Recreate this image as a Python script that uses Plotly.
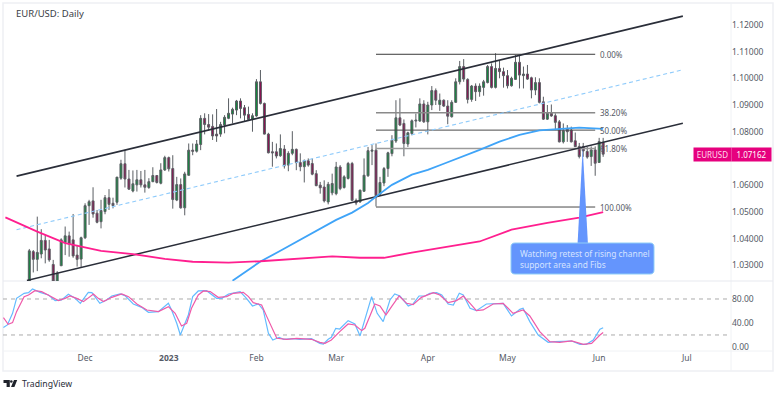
import plotly.graph_objects as go

# ---- price bars (daily EUR/USD) ----
direction = ("GMGGMMMGGG" "MMMGGGMMGG" "MMGGMMGGMM" "GGMGGMMGMG" "GMGGMMMMGG"
             "GGGMMMGGMM" "MMMGMGGMMG" "MMMMMGGGMG" "GMMGGGGMGG" "GGGMMGGGGM"
             "GGMGMMGGGM" "MGMGGGMGMM" "MGGMGMMGMM" "GMMMGMMMMM" "MGMGM")
highs = [1.0361,1.0357,1.0482,1.0435,1.0414,1.0395,1.0320,1.0278,1.0401,1.0445,
         1.0426,1.0492,1.0376,1.0407,1.0532,1.0545,1.0592,1.0507,1.0545,1.0563,
         1.0585,1.0553,1.0630,1.0695,1.0732,1.0657,1.0655,1.0657,1.0653,1.0657,
         1.0626,1.0667,1.0638,1.0682,1.0710,1.0707,1.0712,1.0631,1.0625,1.0650,
         1.0756,1.0756,1.0769,1.0862,1.0869,1.0866,1.0865,1.0885,1.0837,1.0862,
         1.0925,1.0890,1.0919,1.0925,1.0900,1.0894,1.0869,1.0997,1.1031,1.0909,
         1.0796,1.0762,1.0756,1.0790,1.0750,1.0727,1.0802,1.0737,1.0719,1.0696,
         1.0700,1.0700,1.0656,1.0612,1.0618,1.0612,1.0643,1.0687,1.0675,1.0637,
         1.0687,1.0687,1.0550,1.0583,1.0700,1.0743,1.0750,1.0756,1.0631,1.0668,
         1.0725,1.0787,1.0918,1.0925,1.0846,1.0800,1.0846,1.0868,1.0925,1.0918,
         1.0912,1.0971,1.0962,1.0943,1.0921,1.0918,1.0918,1.1000,1.1065,1.1072,
         1.1000,1.0975,1.0981,1.0981,1.0994,1.1050,1.1056,1.1094,1.1066,1.1040,
         1.1031,1.1006,1.1087,1.1087,1.1044,1.1050,1.1006,1.1004,1.1000,1.0931,
         1.0900,1.0902,1.0869,1.0844,1.0831,1.0825,1.0819,1.0797,1.0758,1.0758,
         1.0743,1.0745,1.0745,1.0777,1.0777]
body_tops = [1.0354,1.0351,1.0348,1.0393,1.0393,1.0361,1.0303,1.0270,1.0395,1.0410,
             1.0410,1.0395,1.0338,1.0403,1.0523,1.0538,1.0541,1.0495,1.0505,1.0553,
             1.0553,1.0532,1.0630,1.0680,1.0680,1.0623,1.0605,1.0620,1.0620,1.0601,
             1.0613,1.0636,1.0636,1.0657,1.0703,1.0703,1.0662,1.0602,1.0602,1.0642,
             1.0731,1.0731,1.0754,1.0850,1.0850,1.0827,1.0820,1.0791,1.0827,1.0854,
             1.0869,1.0884,1.0915,1.0915,1.0890,1.0865,1.0860,1.0987,1.0987,1.0906,
             1.0791,1.0725,1.0725,1.0737,1.0735,1.0719,1.0734,1.0734,1.0685,1.0691,
             1.0691,1.0681,1.0643,1.0600,1.0593,1.0603,1.0606,1.0668,1.0668,1.0631,
             1.0681,1.0681,1.0543,1.0581,1.0637,1.0729,1.0731,1.0731,1.0610,1.0662,
             1.0721,1.0768,1.0852,1.0852,1.0831,1.0796,1.0841,1.0843,1.0904,1.0904,
             1.0900,1.0954,1.0954,1.0918,1.0918,1.0896,1.0910,1.0987,1.1044,1.1044,
             1.0996,1.0971,1.0971,1.0971,1.0987,1.1044,1.1044,1.1037,1.1037,1.1025,
             1.1010,1.1000,1.1060,1.1060,1.1016,1.1016,1.1002,1.0984,1.0984,1.0912,
             1.0869,1.0869,1.0860,1.0837,1.0804,1.0809,1.0806,1.0766,1.0745,1.0745,
             1.0726,1.0732,1.0732,1.0763,1.0760]
body_bottoms = [1.0241,1.0322,1.0322,1.0342,1.0357,1.0320,1.0241,1.0241,1.0298,1.0385,
                1.0380,1.0335,1.0322,1.0323,1.0403,1.0523,1.0492,1.0461,1.0463,1.0501,
                1.0528,1.0523,1.0536,1.0626,1.0623,1.0585,1.0578,1.0601,1.0601,1.0592,
                1.0591,1.0613,1.0610,1.0607,1.0657,1.0661,1.0546,1.0544,1.0515,1.0515,
                1.0637,1.0727,1.0727,1.0752,1.0827,1.0817,1.0784,1.0784,1.0791,1.0825,
                1.0850,1.0866,1.0881,1.0887,1.0862,1.0846,1.0846,1.0859,1.0906,1.0791,
                1.0721,1.0721,1.0709,1.0710,1.0672,1.0675,1.0719,1.0684,1.0669,1.0669,
                1.0675,1.0641,1.0598,1.0590,1.0541,1.0537,1.0571,1.0568,1.0587,1.0591,
                1.0625,1.0543,1.0533,1.0537,1.0577,1.0635,1.0727,1.0560,1.0566,1.0608,
                1.0662,1.0718,1.0765,1.0825,1.0756,1.0754,1.0793,1.0840,1.0840,1.0837,
                1.0837,1.0900,1.0918,1.0902,1.0896,1.0858,1.0856,1.0910,1.0987,1.0997,
                1.0921,1.0921,1.0950,1.0950,1.0966,1.0984,1.0966,1.0966,1.1025,1.1010,
                1.0972,1.0972,1.0996,1.1012,1.1010,1.0997,1.0956,1.0956,1.0910,1.0847,
                1.0847,1.0859,1.0835,1.0762,1.0762,1.0800,1.0762,1.0744,1.0707,1.0728,
                1.0705,1.0707,1.0682,1.0685,1.0716]
lows = [1.0232,1.0273,1.0278,1.0326,1.0307,1.0313,1.0232,1.0232,1.0298,1.0338,
        1.0332,1.0328,1.0295,1.0291,1.0398,1.0451,1.0478,1.0457,1.0438,1.0491,
        1.0507,1.0513,1.0526,1.0620,1.0591,1.0582,1.0573,1.0576,1.0591,1.0572,
        1.0586,1.0611,1.0606,1.0603,1.0653,1.0651,1.0512,1.0540,1.0512,1.0487,
        1.0635,1.0712,1.0722,1.0731,1.0790,1.0804,1.0769,1.0762,1.0781,1.0794,
        1.0847,1.0831,1.0862,1.0850,1.0840,1.0844,1.0800,1.0856,1.0902,1.0790,
        1.0719,1.0669,1.0700,1.0706,1.0662,1.0652,1.0712,1.0656,1.0652,1.0610,
        1.0669,1.0637,1.0596,1.0568,1.0535,1.0528,1.0562,1.0562,1.0581,1.0587,
        1.0621,1.0541,1.0525,1.0534,1.0575,1.0631,1.0675,1.0520,1.0559,1.0596,
        1.0631,1.0708,1.0758,1.0821,1.0708,1.0743,1.0787,1.0816,1.0837,1.0833,
        1.0790,1.0881,1.0900,1.0878,1.0893,1.0828,1.0853,1.0908,1.0977,1.0987,
        1.0906,1.0912,1.0915,1.0931,1.0935,1.0981,1.0962,1.0962,1.1000,1.0965,
        1.0962,1.0969,1.0994,1.0962,1.0962,1.0994,1.0925,1.0937,1.0906,1.0844,
        1.0844,1.0856,1.0806,1.0760,1.0756,1.0762,1.0760,1.0744,1.0700,1.0706,
        1.0699,1.0672,1.0635,1.0683,1.0706]

# ---- channel (bar index, price) ----
channel_x = [-3.2, 164.0]
channel_upper = [1.0634, 1.1233]
channel_mid = [1.0433, 1.1032]
lower_x = [-0.6, 164.0]
channel_lower = [1.0243, 1.0832]

# ---- moving averages (bar index, price) ----
ma100_x = [51,58,63,68,73,77,81,85,87,91,96,100,104,108,113,118,123,128,133,138,144]
ma100_y = [1.0242,1.0314,1.0354,1.0395,1.0436,1.0470,1.0497,1.0533,1.0557,1.0601,1.0639,
           1.0657,1.0680,1.0702,1.0732,1.0763,1.0788,1.0805,1.0810,1.0815,1.0811]
ma200_x = [-6,2,9,18,26,34,41,50,58,68,76,83,89,96,103,113,121,130,138,144]
ma200_y = [1.0479,1.0426,1.0383,1.0354,1.0342,1.0324,1.0313,1.0310,1.0315,1.0326,1.0333,
           1.0328,1.0328,1.0347,1.0365,1.0389,1.0433,1.0459,1.0478,1.0499]

# ---- Fibonacci retracement ----
fib_start, fib_end, fib_label_x = 87, 142, 143.2
fib_levels = [1.1090, 1.0871, 1.0806, 1.0737, 1.0518]
fib_labels = ["0.00%", "38.20%", "50.00%", "61.80%", "100.00%"]

# ---- stochastic pane ----
stoch_k_x = [-6.5,-5.5,-4.2,-3.2,-1.3,-0.2,0.8,2.7,4.8,6.5,8.1,9.8,11.5,12.8,14.8,15.7,17.7,19.4,20.7,22.8,
             24,26.1,28.2,29.9,32.4,34.9,35.7,37,37.9,39.9,41,42.4,44.5,47,48.3,50,52.9,54.5,56,57.5,58.7,
             60,61.1,62.7,63.8,66.3,67.9,70.8,72.9,73.8,75,75.8,76.9,77.9,80,81.7,83,84.2,85.9,87.3,88.8,
             90.5,91.7,93,95.1,96.3,97.8,99.3,100.5,102.2,103.5,105.1,106.4,107.9,108.9,110.6,112.2,114.7,
             116.4,118.9,121,123.1,123.9,125.6,127.7,130.2,131.9,134.8,136.1,138.2,139.8,141.5,143.2,144]
stoch_k_y = [32.3,36.7,56.1,81.1,89.5,90.6,96.7,91.1,86.7,77.3,78.4,87.8,81.1,72.8,91.1,90.6,72.8,78.4,85,88.4,
             85.6,71.7,66.1,57.8,58.9,72.8,61.7,39.5,20,53.4,83.9,93.4,93.9,81.1,81.1,88.4,92.3,81.1,68.4,71.7,61.7,
             22.8,11.7,16.1,12.8,13.9,12.8,13.9,6.1,5,12.8,16.1,31.1,30,43.9,38.4,18.4,45,83.9,56.1,42.3,
             78.4,88.4,85,68.4,71.7,85,85,89.5,90.6,86.7,71.7,70,89.5,86.7,64.5,60.6,71.7,
             71.7,72.8,51.7,62.8,64.5,42.3,20,7.8,8.9,10,10,4.5,4.5,11.7,29.5,32]
stoch_d_x = [-6.5,-5.3,-4.2,-3.2,-1.3,-0.2,1.4,3.1,5.2,7.3,9,10.2,11.9,13.6,16.1,17.3,18.6,20.7,23.2,24.9,
             27,29.5,32.4,34.9,36.6,38.2,39.5,40.7,42.4,43.7,45.4,47.4,49.5,51.2,53.7,55,56.2,58.3,59.6,62.1,
             64.6,67.1,70.8,72.9,74.2,75.8,77.9,80,81.7,83.4,84.2,86.7,88,89.5,90.9,92.8,94.7,96.3,98.4,
             101.4,103,105.1,107.2,108.9,110.6,112.2,113.9,116.4,118.9,121.4,123.9,125.6,128.1,130.6,133.1,
             136.1,139,141.1,143.2,144]
stoch_d_y = [48.9,37.8,40.6,58.9,83.9,86.7,93.9,92.3,85,77.3,81.1,85,81.1,75.6,88.4,81.1,75.6,82.8,88.4,83.9,
             71.7,61.7,58.9,67.3,56.1,35,39.5,64.5,86.7,93.4,92.3,82.8,83.9,89.5,91.1,83.9,73.9,70,50.6,14.5,
             12.8,14.5,12.8,7.8,6.1,11.7,25.6,38.4,36.7,27.3,31.1,71.7,68.4,53.4,67.3,85,72.8,70.6,82.8,
             90.6,86.7,73.9,77.3,85,72.8,60.6,61.7,71.7,72.8,56.1,61.7,51.7,25.6,8.9,7.8,
             10,4.5,6.1,20,24]
stoch_bands = [80, 20]

# ---- axes ----
time_ticks = [14, 35, 57, 77, 100, 120, 143, 165]
time_labels = ["Dec", "<b>2023</b>", "Feb", "Mar", "Apr", "May", "Jun", "Jul"]
price_ticks = [1.03, 1.04, 1.05, 1.06, 1.07, 1.08, 1.09, 1.10, 1.11, 1.12]
price_labels = ["%.5f" % p for p in price_ticks]
stoch_ticks = [0, 40, 80]
stoch_labels = ["0.00", "40.00", "80.00"]
last_price = 1.07162

W, H = 780, 396
FONT = "Noto Sans"
GREY = "#555a66"
INK = "#2a2e39"


def X(px):
    return px / W


def Y(px):
    return 1 - px / H


def path(points, close=True):
    return "M" + " L".join(f"{X(a):.5f},{Y(b):.5f}" for a, b in points) + (" Z" if close else "")


bars = range(len(highs))
is_up = [d == "G" for d in direction]
opens = [b if u else t for b, t, u in zip(body_bottoms, body_tops, is_up)]
closes = [t if u else b for b, t, u in zip(body_bottoms, body_tops, is_up)]

fig = go.Figure()
fig.add_trace(go.Candlestick(
    x=list(bars), open=opens, high=highs, low=lows, close=closes, xaxis="x", yaxis="y",
    whiskerwidth=0,
    increasing=dict(line=dict(color="#5a5e63", width=1), fillcolor="#0f8a3c"),
    decreasing=dict(line=dict(color="#5a5e63", width=1), fillcolor="#8a0f50"),
    showlegend=False, hoverinfo="skip"))


def line(xs, ys, color, width, dash="solid", xa="x", ya="y"):
    fig.add_trace(go.Scatter(x=xs, y=ys, mode="lines", xaxis=xa, yaxis=ya, showlegend=False,
                             hoverinfo="skip", line=dict(color=color, width=width, dash=dash)))


for lvl, col, wd in zip(fib_levels, ["#3a3a3a", "#8a8a8a", "#4a4a4a", "#9a9a9a", "#4a4a4a"], [1, 1.4, 1, 1.4, 1]):
    line([fib_start, fib_end], [lvl, lvl], col, wd)
line(channel_x, channel_upper, INK, 1.7)
line(channel_x, channel_mid, "#8fcbfb", 1.1, "4px,3px")
line(lower_x, channel_lower, INK, 1.5)
line(ma100_x, ma100_y, "#3fa4f8", 1.8)
line(ma200_x, ma200_y, "#ff1f8f", 1.8)

for band in stoch_bands:
    line([-6.6, 175.5], [band, band], "#ababab", 1, "4px,4px", "x2", "y2")
line(stoch_k_x, stoch_k_y, "#63bbff", 1.2, xa="x2", ya="y2")
line(stoch_d_x, stoch_d_y, "#ef5aa9", 1.2, xa="x2", ya="y2")

shapes = [
    # frame and pane dividers
    dict(type="rect", xref="paper", yref="paper", x0=X(3), x1=X(773), y0=Y(371), y1=Y(3),
         line=dict(color="#eef0f4", width=1.5), layer="below"),
    dict(type="line", xref="paper", yref="paper", x0=X(731), x1=X(731), y0=Y(371), y1=Y(3),
         line=dict(color="#f0f2f5", width=1), layer="below"),
    dict(type="line", xref="paper", yref="paper", x0=X(3), x1=X(773), y0=Y(281), y1=Y(281),
         line=dict(color="#e8eaef", width=1.2), layer="below"),
    dict(type="line", xref="paper", yref="paper", x0=X(3), x1=X(773), y0=Y(351), y1=Y(351),
         line=dict(color="#f0f2f5", width=1), layer="below"),
    # callout spike
    dict(type="path", xref="paper", yref="paper",
         path=path([(582.7, 148), (577.5, 245), (588, 245)]),
         fillcolor="#6495fd", line=dict(width=0)),
    # callout box
    dict(type="path", xref="paper", yref="paper",
         path=(f"M{X(515):.5f},{Y(243):.5f} L{X(650):.5f},{Y(243):.5f} "
               f"Q{X(654):.5f},{Y(243):.5f} {X(654):.5f},{Y(247):.5f} L{X(654):.5f},{Y(270):.5f} "
               f"Q{X(654):.5f},{Y(274):.5f} {X(650):.5f},{Y(274):.5f} L{X(515):.5f},{Y(274):.5f} "
               f"Q{X(511):.5f},{Y(274):.5f} {X(511):.5f},{Y(270):.5f} L{X(511):.5f},{Y(247):.5f} "
               f"Q{X(511):.5f},{Y(243):.5f} {X(515):.5f},{Y(243):.5f} Z"),
         fillcolor="#6495fd", line=dict(color="#8ecdf7", width=1)),
    # logo
    dict(type="path", xref="paper", yref="paper",
         path=path([(3.5, 380), (9.8, 380), (9.8, 387), (6.6, 387), (6.6, 383), (3.5, 383)]),
         fillcolor="#1f222b", line=dict(width=0)),
    dict(type="circle", xref="paper", yref="paper", x0=X(10), x1=X(12.6), y0=Y(382.8), y1=Y(380.2),
         fillcolor="#1f222b", line=dict(width=0)),
    dict(type="path", xref="paper", yref="paper",
         path=path([(14, 380), (17.2, 380), (14.4, 387), (11, 387)]),
         fillcolor="#1f222b", line=dict(width=0)),
]

annotations = [
    dict(xref="paper", yref="paper", x=X(13.5), y=Y(13.5), text="EUR/USD: Daily", showarrow=False,
         xanchor="left", yanchor="middle", font=dict(family=FONT, size=9.5, color="#3a3d45")),
    dict(xref="paper", yref="paper", x=X(19.5), y=Y(383.5), text="TradingView", showarrow=False,
         xanchor="left", yanchor="middle", font=dict(family=FONT, size=8.7, color="#2a2e39")),
    dict(xref="paper", yref="paper", x=X(517.5), y=Y(258.5),
         text="Watching retest of rising channel<br>support area and Fibs", showarrow=False,
         xanchor="left", yanchor="middle", align="left",
         font=dict(family=FONT, size=8.4, color="#d5e3ff")),
    dict(xref="paper", yref="y", x=X(693), y=last_price, text="EURUSD", showarrow=False,
         xanchor="left", yanchor="middle", width=37, height=12.5, bgcolor="#e6007e", borderpad=0,
         font=dict(family=FONT, size=8, color="#ffd9ec")),
    dict(xref="paper", yref="y", x=X(731), y=last_price, text="1.07162", showarrow=False,
         xanchor="left", yanchor="middle", width=39, height=12.5, bgcolor="#e6007e", borderpad=0,
         font=dict(family=FONT, size=8, color="#ffffff")),
]
for lvl, txt in zip(fib_levels, fib_labels):
    annotations.append(dict(x=fib_label_x, y=lvl, xref="x", yref="y", text=txt, showarrow=False,
                            xanchor="left", yanchor="middle", xshift=-2,
                            font=dict(family=FONT, size=8, color="#555a66")))

x_range = [-6.6, 176.08]
fig.update_layout(
    width=W, height=H, margin=dict(l=0, r=0, t=0, b=0), autosize=False,
    paper_bgcolor="white", plot_bgcolor="white", showlegend=False,
    font=dict(family=FONT, size=8, color=GREY),
    shapes=shapes, annotations=annotations,
    xaxis=dict(domain=[X(3), X(731)], range=x_range, anchor="y", showgrid=False, zeroline=False,
               showticklabels=False, ticks="", rangeslider=dict(visible=False), showline=False),
    yaxis=dict(domain=[Y(281), Y(3)], range=[1.0241, 1.1282], side="right", anchor="x",
               showgrid=False, zeroline=False, tickvals=price_ticks, ticktext=price_labels,
               ticks="", showline=False,
               tickfont=dict(family=FONT, size=8.5, color=GREY)),
    xaxis2=dict(domain=[X(3), X(731)], range=x_range, anchor="y2", showgrid=False, zeroline=False,
                tickvals=time_ticks, ticktext=time_labels, ticks="", showline=False, tickangle=0,
                tickfont=dict(family=FONT, size=8.5, color=GREY)),
    yaxis2=dict(domain=[Y(351), Y(281)], range=[-6.7, 110], side="right", anchor="x2",
                showgrid=False, zeroline=False, tickvals=stoch_ticks, ticktext=stoch_labels,
                ticks="", showline=False,
                tickfont=dict(family=FONT, size=8.5, color=GREY)),
)

fig.write_html("out.html", config=dict(displayModeBar=False),
               post_script="document.body.style.margin='0';document.documentElement.style.overflow='hidden';")
